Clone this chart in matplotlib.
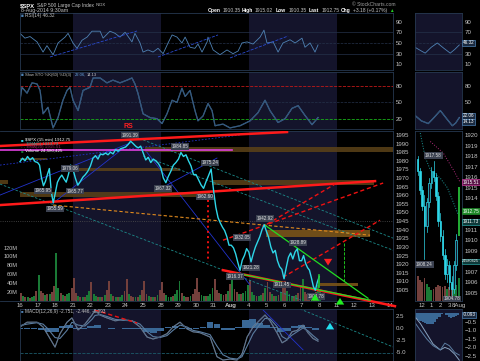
import matplotlib
matplotlib.use('Agg')
import matplotlib.pyplot as plt
import numpy as np

plt.rcParams['font.family'] = ['Liberation Sans', 'DejaVu Sans']

# ---- data (x in trading days from 16-Jul, y in index points) ----
date_labels = ['16', '17', '18', '21', '22', '23', '24', '25', '28', '29', '30', '31',
               'Aug', '4', '5', '6', '7', '8', '11', '12', '13', '14']
shaded_weeks = [(3, 8), (13, 18)]

price_by_day = [
    [1979.5, 1981.5, 1980.0, 1982.5, 1980.5, 1981.8, 1979.5],
    [1979.0, 1977.5, 1970.0, 1965.5, 1968.0, 1972.0, 1975.5, 1962.0, 1955.6],
    [1961.0, 1967.5, 1970.0, 1971.7, 1969.5, 1967.6, 1972.0, 1977.5],
    [1975.5, 1970.0, 1965.8, 1968.0, 1970.5, 1972.0, 1974.0],
    [1977.0, 1981.5, 1983.0, 1981.0, 1984.0, 1983.5, 1984.5],
    [1983.5, 1985.0, 1984.0, 1986.5, 1985.5, 1987.0, 1987.5],
    [1988.0, 1989.5, 1991.4, 1990.0, 1988.5, 1987.5, 1988.5],
    [1984.5, 1980.5, 1982.0, 1979.0, 1981.0, 1980.0, 1978.5],
    [1976.0, 1970.0, 1967.3, 1971.0, 1974.0, 1977.5, 1979.0],
    [1981.0, 1984.8, 1982.5, 1983.5, 1980.0, 1977.0, 1972.0],
    [1972.0, 1969.0, 1966.0, 1964.0, 1968.0, 1971.5, 1975.2],
    [1962.5, 1953.0, 1947.0, 1944.0, 1941.5, 1939.5, 1936.0, 1931.0],
    [1931.0, 1929.5, 1926.0, 1921.0, 1916.4, 1922.3, 1925.0, 1929.0],
    [1927.0, 1921.3, 1926.0, 1930.0, 1933.0, 1936.0, 1940.0, 1942.9],
    [1939.0, 1935.5, 1930.0, 1926.5, 1928.0, 1922.0, 1918.5, 1917.0],
    [1911.5, 1918.0, 1924.0, 1926.5, 1923.0, 1927.0, 1928.9, 1922.0],
    [1922.0, 1925.0, 1920.5, 1918.0, 1916.5, 1912.0, 1907.0, 1904.8, 1909.5],
    [1912.75],
]
last_bar = (16.98, 1907.0, 1913.5)

vol_by_day = [
    [18, 12, 9, 8, 7, 9, 12, 22], [58, 22, 18, 14, 16, 15, 20, 35],
    [108, 30, 18, 14, 12, 15, 18, 30], [52, 18, 12, 10, 9, 10, 14, 22],
    [42, 16, 12, 9, 9, 10, 14, 24], [46, 15, 11, 9, 8, 9, 13, 22],
    [50, 16, 12, 10, 9, 10, 14, 24], [46, 16, 11, 9, 9, 10, 13, 24],
    [42, 18, 13, 10, 10, 11, 15, 26], [46, 17, 12, 10, 10, 12, 16, 28],
    [52, 20, 14, 11, 11, 12, 16, 30], [50, 24, 18, 15, 14, 16, 22, 38],
    [62, 28, 20, 16, 15, 17, 22, 36], [48, 20, 14, 12, 11, 13, 17, 30],
    [42, 20, 15, 12, 12, 14, 20, 34], [46, 22, 15, 12, 11, 13, 18, 32],
    [50, 20, 15, 12, 12, 15, 20, 36], [24.6],
]
vol_dirs = ['rgrgrggr', 'grrgrgrr', 'ggrgrggr', 'rrgrgrgg', 'rggrgrgr', 'rgrgrggr',
            'rgrrgrgr', 'rrgrgrgr', 'rrgggrgg', 'grgrrgrr', 'rrggrggg', 'rrrgrrgr',
            'grrgrggg', 'rggrggrg', 'rrgrgrgr', 'rgggrgrr', 'grrrrrrg', 'g']

price_labels = [(1.31, 1965.95, -1), (1.99, 1955.59, -1), (3.12, 1965.77, -1),
                (2.85, 1979.06, -1), (6.25, 1991.39, 1), (9.10, 1984.85, 1),
                (8.13, 1967.32, -1), (10.80, 1975.24, 1), (10.50, 1962.60, -1),
                (12.60, 1932.05, 1), (12.20, 1916.37, -1), (13.10, 1921.28, -1),
                (13.92, 1942.92, 1), (15.80, 1928.89, 1), (14.90, 1911.45, -1),
                (16.80, 1904.78, -1)]

rsi_days = [0.00, 0.28, 0.57, 0.97, 1.31, 1.53, 1.88, 2.16, 2.56, 2.73, 3.01, 3.24, 3.52,
            3.81, 4.09, 4.55, 4.72, 5.11, 5.40, 5.68, 5.97, 6.36, 6.53, 6.82, 6.99, 7.27,
            7.56, 7.84, 8.13, 8.41, 8.64, 8.92, 9.20, 9.38, 9.66, 9.94, 10.11, 10.34,
            10.63, 10.68, 10.97, 11.36, 11.76, 12.10, 12.39, 12.61, 12.90, 13.24, 13.64,
            13.86, 14.03, 14.38, 14.66, 14.94, 15.34, 15.63, 16.02, 16.19, 16.48, 16.76, 16.93]
rsi_vals = [68, 59, 62, 52, 33, 45, 28, 50, 61, 68, 50, 40, 55, 61, 72, 72, 59, 72, 68, 61,
            70, 52, 68, 50, 33, 37, 33, 40, 30, 50, 65, 61, 50, 61, 42, 40, 48, 33, 52, 61,
            37, 28, 37, 30, 35, 50, 52, 48, 61, 74, 50, 52, 33, 50, 56, 50, 59, 42, 50, 33, 46.3]

sto_days = [0, 0.11, 0.40, 0.68, 0.97, 1.14, 1.31, 1.59, 1.88, 2.16, 2.44, 2.67, 2.84, 3.01,
            3.30, 3.58, 3.98, 4.15, 4.55, 4.94, 5.28, 5.68, 6.08, 6.36, 6.53, 6.70, 6.99,
            7.39, 7.78, 8.07, 8.35, 8.64, 8.92, 9.20, 9.38, 9.66, 9.94, 10.11, 10.40, 10.68,
            10.91, 11.08, 11.53, 11.93, 12.50, 13.07, 13.52, 13.92, 14.20, 14.66, 15.06,
            15.45, 15.80, 16.19, 16.59, 16.93]
sto_vals = [54, 78, 67, 86, 84, 72, 29, 41, 3, 22, 54, 72, 78, 54, 35, 72, 78, 95, 95, 86,
            91, 86, 91, 95, 84, 67, 29, 22, 20, 11, 29, 54, 50, 76, 61, 72, 35, 16, 25, 48,
            35, 7, 10, 3, 7, 16, 31, 54, 35, 13, 20, 39, 44, 26, 9, 22.06]

macd_days = [0, 0.4, 0.97, 1.31, 1.59, 1.99, 2.27, 2.67, 2.95, 3.3, 3.69, 4.09, 4.26, 4.55,
             4.94, 5.4, 5.85, 6.36, 6.82, 7.22, 7.56, 7.95, 8.35, 8.69, 9.09, 9.49, 9.83,
             10.23, 10.8, 11.19, 11.53, 11.93, 12.33, 12.61, 12.9, 13.24, 13.64, 13.92, 14.2,
             14.6, 14.89, 15.17, 15.45, 15.74, 16.08, 16.36, 16.65, 16.93]
macd_vals = [0.2, 1.2, 1.2, 0.2, -1.5, -4.0, -1.2, 1.2, 2.1, -0.4, 0.8, 2.7, 3.7, 2.7, 2.1,
             1.5, 1.7, 1.5, 0.2, -1.9, -2.3, -1.9, -1.2, 0.2, 1.2, -0.2, -0.8, -1.0, -1.9,
             -6.0, -6.7, -6.5, -6.7, -5.5, -1.9, 0.2, 1.7, 2.7, 1.5, -1.0, -3.1, -2.5, -0.8,
             -0.5, 0.6, -1.0, -2.2, -2.75]
signal_vals = [0.5, 0.8, 1.1, 0.8, -0.2, -2.0, -2.2, -0.5, 1.2, 0.6, 0.4, 1.8, 2.6, 2.8, 2.4,
               1.8, 1.6, 1.5, 0.8, -0.8, -1.8, -2.0, -1.6, -0.5, 0.6, 0.2, -0.5, -0.8, -1.4,
               -3.8, -5.6, -6.3, -6.5, -6.0, -3.8, -1.2, 0.8, 2.0, 1.9, 0.3, -1.8, -2.4, -1.5,
               -0.8, 0.0, -0.6, -1.6, -2.45]
hist_vals = [-0.2, -0.3, -0.2, -0.4, -0.8, -0.9, 0.4, 0.6, -0.2, -0.2, 0.5, 0.6, -0.1, -0.2,
             -0.1, -0.2, -0.2, -0.3, -0.9, -1.0, -0.7, 0.3, 0.4, -0.2, -0.3, -0.3, 0.3, 1.3,
             0.9, -0.5, -0.4, 0.2, 1.6, 1.9, 1.0, 0.6, 0.2, -0.8, -0.6, 0.5, 0.6, 0.2, -0.4]

# right hand panel: last session in 15 min bars (x in hours)
c_time = [11.5, 11.75, 12.0, 12.25, 12.5, 12.75, 13.0, 13.25, 13.5, 13.75, 14.0, 14.25,
          14.5, 14.75, 15.0, 15.25, 15.5, 15.75]
c_open = [1917.7, 1916.6, 1914.8, 1913.3, 1911.3, 1913.6, 1915.4, 1916.6, 1916.0, 1914.2,
          1911.8, 1910.4, 1908.6, 1906.8, 1907.6, 1906.0, 1905.3, 1907.6]
c_close = [1916.6, 1914.8, 1913.3, 1911.3, 1913.6, 1915.4, 1916.6, 1916.0, 1914.2, 1911.8,
           1910.4, 1908.6, 1906.8, 1907.6, 1906.0, 1905.3, 1907.6, 1910.0]
c_high = [1918.0, 1916.9, 1915.2, 1914.3, 1914.0, 1915.9, 1917.0, 1917.58, 1916.4, 1914.6,
          1912.6, 1911.0, 1909.2, 1908.2, 1908.0, 1906.6, 1908.0, 1910.6]
c_low = [1916.2, 1914.4, 1912.9, 1908.24, 1910.8, 1913.2, 1915.0, 1915.6, 1913.8, 1911.3,
         1909.9, 1908.2, 1906.3, 1906.0, 1905.3, 1904.78, 1905.0, 1907.2]
c_vol = [26, 22, 20, 24, 18, 15, 12, 13, 15, 17, 16, 15, 16, 13, 15, 18, 14, 17]
aug8_bar = (16.1, 1910.35, 1912.75, 1915.02, 1910.35, 24.6)
ema_t = [11.78, 12.33, 12.89, 14.0, 14.78, 15.44, 16.0, 16.1]
ema_v = [1920.2, 1917.9, 1916.7, 1915.9, 1915.0, 1913.6, 1912.4, 1911.73]
ema2_t = [12.89, 14.33, 15.44, 16.2]
ema2_v = [1919.4, 1918.3, 1916.7, 1915.51]
rsi_r_t = [11.2, 11.8, 12.33, 13.0, 13.67, 14.4, 15.1, 15.6, 16.1]
rsi_r_v = [42, 36, 31, 42, 50, 40, 31, 38, 46.3]
sto_r_t = [11.2, 11.9, 12.67, 13.3, 14.0, 14.7, 15.33, 15.7, 16.1]
sto_r_v = [26, 16, 11, 22, 35, 20, 7, 12, 22]
macd_r_t = [11.2, 11.8, 12.5, 13.2, 14.0, 14.5, 15.0, 15.6, 16.1]
macd_r_v = [-0.2, -0.6, -1.2, -1.8, -2.15, -2.0, -2.1, -2.4, -2.75]
sig_r_v = [-0.55, -1.0, -1.5, -1.9, -2.15, -1.75, -1.9, -2.3, -2.45]
hist_r_v = [-0.35, -0.4, -0.45, -0.5, -0.55, -0.6, -0.65, -0.6, -0.5, -0.35, -0.2, -0.05,
            0.0, -0.1, -0.2, -0.25, -0.2, -0.15, -0.09]

# chartist annotations (day, value) pairs
red_thick = [((-1.136, 1988.6), (15.17, 1996.7)), ((-1.136, 1954.3), (20.17, 1968.2)),
             ((11.53, 1916.5), (21.3, 1895.6))]
red_dashed = [((11.53, 1933.9), (20.63, 1967.1)), ((14.03, 1943.2), (17.9, 1966.5)),
              ((14.94, 1912.4), (20.45, 1945.5))]
blue_solid = [((-1.136, 1960.1), (6.25, 1990.3)), ((1.88, 1955.4), (6.25, 1990.3)),
              ((7.2, 1985.1), (13.07, 1907.8)), ((8.13, 1964.7), (11.19, 1981.6))]
blue_dotted = [((-1.136, 1977.5), (12.5, 1995.0))]
teal_dashed = [((-1.136, 1966.5), (15.97, 1899.1)), ((7.0, 1992.1), (21.19, 1935.1)),
               ((7.0, 1982.8), (21.19, 1928.1))]
green_solid = [((12.33, 1914.7), (19.89, 1899.05)), ((13.92, 1942.6), (19.77, 1900.2))]
orange_dashed = [((1.875, 1954.3), (19.89, 1936.8))]
bands = [(7.1, 21.19, 1985.1, 1988.0), (0.0, 1.53, 1980.4, 1981.6), (2.84, 9.09, 1974.0, 1975.8),
         (10.9, 20.1, 1965.9, 1968.8), (0.0, 10.8, 1959.0, 1961.8), (-1.136, -0.68, 1966.5, 1968.8)]
orange_bands = [(14.0, 19.9, 1935.7, 1939.7), (17.05, 19.2, 1907.2, 1909.0)]
rsi_trends = [((1.7, 23.8), (6.65, 72.4)), ((7.84, 23.8), (11.25, 65)), ((11.93, 22), (15.23, 63))]

# ---- figure ----
W, H = 480, 361
fig = plt.figure(figsize=(4.8, 3.61), dpi=100, facecolor='black')
SHADE = '#14142b'
FRAME = '#26384f'
TXT = '#c4c4c4'
CYAN = '#2ed6e8'
VGREEN = '#1a7a36'
VRED = '#74403c'
XMAX = 21.19


def px_axes(x0, y0, x1, y1):
    return fig.add_axes([x0 / W, 1 - y1 / H, (x1 - x0) / W, (y1 - y0) / H])


def ftext(x, y, s, **kw):
    kw.setdefault('va', 'center')
    fig.text(x / W, 1 - y / H, s, **kw)


def style(ax, face='black'):
    ax.set_facecolor(face)
    for s in ax.spines.values():
        s.set_color(FRAME)
        s.set_linewidth(0.6)
    ax.tick_params(colors=TXT, labelsize=4.4, length=0, pad=2)
    ax.yaxis.tick_right()


def shade(ax):
    for a, b in shaded_weeks:
        ax.axvspan(a, b, color=SHADE, lw=0, zorder=0)


def seg(ax, pairs, **kw):
    for (x0, y0), (x1, y1) in pairs:
        ax.plot([x0, x1], [y0, y1], **kw)


def box(ax, y, s, fc, ec, tc='white', size=3.3, x=1.02):
    ax.text(x, y, s, fontsize=size, color=tc, va='center', ha='left',
            transform=ax.get_yaxis_transform(), clip_on=False,
            bbox=dict(boxstyle='square,pad=0.12', fc=fc, ec=ec, lw=0.5))


# RSI
ax = px_axes(20, 13, 393, 70)
style(ax)
shade(ax)
ax.set_xlim(0, XMAX)
ax.set_ylim(-0.5, 106)
ax.set_xticks([])
ax.set_yticks([10, 30, 50, 70, 90])
for lv, ls in [(70, '-'), (50, '--'), (30, '-')]:
    ax.axhline(lv, color='#25324a', lw=0.5, ls=ls)
ax.plot(rsi_days, rsi_vals, color='#4f82b4', lw=0.6)
seg(ax, rsi_trends, color='#2a4ad0', lw=0.6, ls='--')

axr = px_axes(415, 13, 462, 70)
style(axr, SHADE)
axr.set_xlim(11.2, 16.4)
axr.set_ylim(-0.5, 106)
axr.set_xticks([])
axr.set_yticks([10, 30, 70, 90])
for lv, ls in [(70, '-'), (50, '--'), (30, '-')]:
    axr.axhline(lv, color='#25324a', lw=0.5, ls=ls)
axr.plot(rsi_r_t, rsi_r_v, color='#4f82b4', lw=0.6)
box(axr, 50, '46.32', '#1a2a40', '#4f82b4')

# Slow stochastic
ax = px_axes(20, 72, 393, 129)
style(ax)
shade(ax)
ax.set_xlim(0, XMAX)
ax.set_ylim(1, 106)
ax.set_xticks([])
ax.set_yticks([20, 50, 80])
ax.axhline(80, color='#c01818', lw=0.6, ls='--')
ax.axhline(50, color='#25324a', lw=0.5, ls='--')
ax.axhline(20, color='#18b018', lw=0.6, ls='--')
ax.plot(sto_days, sto_vals, color='#4f82b4', lw=0.9)
ax.plot(sto_days, sto_vals, color='#0c1a2a', lw=0.25)

axr = px_axes(415, 72, 462, 129)
style(axr, SHADE)
axr.set_xlim(11.2, 16.4)
axr.set_ylim(1, 106)
axr.set_xticks([])
axr.set_yticks([50, 80])
axr.plot(sto_r_t, sto_r_v, color='#4f82b4', lw=0.9)
axr.plot(sto_r_t, sto_r_v, color='#0c1a2a', lw=0.25)
box(axr, 25, '22.06', '#1a2a40', '#4f82b4')
box(axr, 14, '14.13', '#1a2a40', '#4f82b4')

# Price panel (starts at the left figure edge so trend lines run to the edge)
ax = px_axes(0, 131, 393, 301)
vax = ax.twinx()
ax.set_zorder(3)
vax.set_zorder(2)
ax.patch.set_visible(False)
style(ax)
vax.set_facecolor('black')
for s in vax.spines.values():
    s.set_visible(False)
vax.set_yticks([])
shade(vax)
ax.spines['left'].set_visible(False)
ax.set_xlim(-1.136, XMAX)
ax.set_ylim(1898.6, 1997.3)
vax.set_ylim(0, 385)
ax.set_yticks(range(1905, 1996, 5))
ax.set_xticks(range(len(date_labels)))
ax.set_xticklabels(date_labels)
ax.tick_params(axis='x', pad=1.5)

vx, vv, vc = [], [], []
for d, vals in enumerate(vol_by_day):
    for k, v in enumerate(vals):
        vx.append(d + k / 8 + 0.06)
        vv.append(v)
        vc.append(VGREEN if vol_dirs[d][k] == 'g' else VRED)
vax.bar(vx, vv, width=0.11, color=vc, lw=0)
for v in [20, 40, 60, 80, 100, 120]:
    vax.text(-0.12, v, f'{v}M', fontsize=4, color=TXT, ha='right', va='center')

for d0, d1, lo, hi in bands:
    ax.fill_between([d0, d1], lo, hi, color='#5c4318', alpha=0.85, lw=0, zorder=1)
for d0, d1, lo, hi in orange_bands:
    ax.fill_between([d0, d1], lo, hi, color='#7a5418', alpha=0.9, lw=0, zorder=1)

ax.axhline(1945, color='#505050', lw=0.6, ls=':', zorder=1)
seg(ax, teal_dashed, color='#1c8a8a', lw=0.6, ls=(0, (3, 2)), zorder=2)
seg(ax, blue_solid, color='#2233cc', lw=0.6, zorder=2)
seg(ax, blue_dotted, color='#2233cc', lw=0.6, ls=(0, (2, 2)), zorder=2)
seg(ax, orange_dashed, color='#e08a1e', lw=0.8, ls=(0, (3, 2)), zorder=2)
ax.plot([-1.136, 12.05], [1986.3, 1986.3], color='#e040e0', lw=1.2, zorder=3)
seg(ax, red_thick[:2], color='#ff1a1a', lw=1.8, zorder=3)
seg(ax, red_thick[2:], color='#ff1a1a', lw=1.8, zorder=3, clip_on=False)
seg(ax, green_solid, color='#22dd22', lw=0.9, zorder=4)
seg(ax, red_dashed, color='#ee1111', lw=1.0, ls=(0, (3, 2)), zorder=3)
ax.plot([10.68, 10.68], [1957.2, 1921.1], color='#ee1111', lw=1.4, ls=':', zorder=3)
ax.plot([18.41, 18.41], [1932.2, 1908.9], color='#22dd22', lw=0.6, ls='--', zorder=3)

px_x, px_y = [], []
for d, vals in enumerate(price_by_day):
    for k, v in enumerate(vals):
        px_x.append(d + k / len(vals))
        px_y.append(v)
ax.plot(px_x, px_y, color=CYAN, lw=1.0, zorder=5)
ax.plot([last_bar[0]] * 2, last_bar[1:], color='#22cc33', lw=1.2, zorder=5)

for d, v, side in price_labels:
    ax.annotate(f'{v:.2f}', (d, v), xytext=(0, 6 * side), textcoords='offset pixels',
                ha='center', va='center', fontsize=3.3, color='#e0e0e0', zorder=8,
                bbox=dict(boxstyle='square,pad=0.15', fc='#3b4150', ec='none'))


def arrow(a, d, v, up, color):
    a.annotate('', xy=(d, v), xytext=(0, -10 if up else 10), textcoords='offset pixels',
               annotation_clip=False, zorder=9,
               arrowprops=dict(arrowstyle='simple,head_width=1.0,head_length=0.8,tail_width=0.45',
                               fc=color, ec='none', mutation_scale=6))


arrow(ax, 17.5, 1917.6, False, '#ff2020')
arrow(ax, 16.76, 1904.3, True, '#22ee22')
arrow(ax, 18.18, 1902.0, True, '#22ee22')

for lab in ax.get_xticklabels():
    if lab.get_text() == 'Aug':
        lab.set_fontweight('bold')

# right price panel
axr = px_axes(415, 131, 462, 301)
vr = axr.twinx()
axr.set_zorder(3)
vr.set_zorder(2)
axr.patch.set_visible(False)
style(axr)
vr.set_facecolor(SHADE)
for s in vr.spines.values():
    s.set_visible(False)
vr.set_yticks([])
axr.set_xlim(11.2, 16.4)
axr.set_ylim(1904.2, 1920.4)
vr.set_ylim(0, 180)
axr.set_yticks([1905, 1906, 1907, 1909, 1910, 1911, 1914, 1915, 1916, 1917, 1918, 1919, 1920])
axr.set_xticks([12, 13, 14, 15, 16.1])
axr.set_xticklabels(['12', '1', '2', '3', '8Aug'])
axr.tick_params(axis='x', pad=1.5)
vcol = [VGREEN if c > o else VRED for o, c in zip(c_open, c_close)]
vr.bar(c_time + [aug8_bar[0]], c_vol + [aug8_bar[5]], width=0.2, color=vcol + [VGREEN], lw=0)
for t, o, c, h, l in zip(c_time, c_open, c_close, c_high, c_low):
    axr.plot([t, t], [l, h], color=CYAN, lw=0.5, zorder=4)
    up = c > o
    axr.bar(t, abs(c - o), bottom=min(o, c), width=0.17, zorder=5,
            color=SHADE if up else CYAN, edgecolor=CYAN, lw=0.5)
t, o, c, h, l, _ = aug8_bar
axr.bar(t, h - l, bottom=l, width=0.18, color='#22aa33', zorder=5)
axr.plot(ema_t, ema_v, color='#1c9a9a', lw=0.7, ls=':', zorder=3)
axr.plot(ema2_t, ema2_v, color='#b02a7a', lw=0.7, ls=':', zorder=3)
for t, v, off in [(13.25, 1917.58, 5), (12.25, 1908.24, -6), (15.25, 1904.78, -4)]:
    axr.annotate(f'{v:.2f}', (t, v), xytext=(0, off), textcoords='offset pixels', ha='center',
                 va='center', fontsize=3.3, color='#e0e0e0', zorder=8,
                 bbox=dict(boxstyle='square,pad=0.15', fc='#3b4150', ec='none'))
box(axr, 1915.51, '1915.51', '#5a1246', '#d040a0')
box(axr, 1912.75, '1912.75', '#1f8a2a', '#1f8a2a')
box(axr, 1911.73, '1911.73', '#0f3a3a', '#2aa0a0')
box(axr, 1908.0, '24580425', '#0f3a3a', '#2aa0a0', size=2.7, x=1.005)

# MACD
ax = px_axes(20, 309, 393, 361)
style(ax)
shade(ax)
ax.set_xlim(0, XMAX)
ax.set_ylim(-6.9, 3.96)
ax.set_xticks([])
ax.set_yticks([-5, -2.5, 0, 2.5])
ax.set_yticklabels(['-5.0', '-2.5', '0.0', '2.5'])
ax.axhline(-5.3, color='#1c5a6a', lw=0.6, ls='--')
ax.bar(np.arange(len(hist_vals)) * 0.4, hist_vals, width=0.38, color='#3a6896', lw=0)
ax.plot(macd_days, macd_vals, color='#8aa4c0', lw=0.8)
ax.plot(macd_days, signal_vals, color='#5a7ca0', lw=0.8)
ax.plot(macd_days, macd_vals, color='#10182a', lw=0.2)
ax.plot([13.81, 16.08], [3.75, -4.58], color='#2233cc', lw=0.6)
ax.plot([15.91, 21.19], [3.96, -3.96], color='#1c8a8a', lw=0.6, ls=(0, (3, 2)))
ax.plot([4.26, 6.65], [3.75, 1.04], color='#ee1111', lw=1.0, ls=(0, (3, 2)))
arrow(ax, 17.61, 1.67, True, '#22e0f0')

axr = px_axes(415, 309, 462, 361)
style(axr, SHADE)
axr.set_xlim(11.2, 16.4)
axr.set_ylim(-2.8, 0.26)
axr.set_xticks([])
axr.set_yticks([-2.5, -2.0, -1.5, -1.0, -0.5])
axr.bar(11.3 + np.arange(len(hist_r_v)) * 0.26, hist_r_v, width=0.26, color='#3a6896', lw=0)
axr.plot(macd_r_t, macd_r_v, color='#8aa4c0', lw=0.7)
axr.plot(macd_r_t, sig_r_v, color='#5a7ca0', lw=0.7)
box(axr, -0.093, '-0.093', '#1a2a40', '#4f82b4')

# header and legends
ftext(20, 5.5, '\\$SPX', fontsize=4.2, color='white', weight='bold')
ftext(37, 5.5, 'S&P 500 Large Cap Index', fontsize=3.5, color=TXT)
ftext(96, 5.5, 'INDX', fontsize=3.0, color=TXT)
ftext(21, 10.5, '8-Aug-2014 9:30am', fontsize=3.8, color=TXT)
for x, s, b in [(208, 'Open', True), (223, '1910.35', False), (242, 'High', True),
                (255, '1915.02', False), (276, 'Low', True), (289, '1910.35', False),
                (309, 'Last', True), (322, '1912.75', False), (341, 'Chg', True),
                (353, '+3.18 (+0.17%)', False)]:
    ftext(x, 10.5, s, fontsize=3.6, color='white' if b else TXT, weight='bold' if b else 'normal')
ftext(389, 10.5, '▲', fontsize=3.3, color='#22cc22')
ftext(352, 4, '© StockCharts.com', fontsize=3.6, color='#a0a0a0')
ftext(21, 15.5, '■', fontsize=3.3, color='#4f82b4')
ftext(25, 15.5, 'RSI(14) 46.32', fontsize=3.4, color=TXT)
ftext(21, 75, '■', fontsize=3.3, color='#4f82b4')
ftext(25, 75, 'Slow STO %K(60) %D(3)', fontsize=3.0, color=TXT)
ftext(75, 75, '22.06,', fontsize=3.0, color='#6aa8e0')
ftext(87, 75, '14.13', fontsize=3.0, color=TXT)
ftext(128, 127, 'RS', fontsize=5, color='#ff2020', weight='bold', ha='center')
ftext(21, 140, '■', fontsize=3.1, color=CYAN)
ftext(25, 140, '\\$SPX (15 min) 1912.75', fontsize=3.2, color='white')
ftext(21, 143.8, '- - EMA(5) 1913.73', fontsize=3.2, color='#2aa0a0')
ftext(21, 147.4, '- - EMA(20) 1915.51', fontsize=3.2, color='#a02060')
ftext(21, 151, '■', fontsize=3.1, color=VGREEN)
ftext(25, 151, 'Volume 24,580,425', fontsize=3.2, color='white')
ftext(21, 311.5, '■', fontsize=3.1, color='#4f82b4')
ftext(25, 311.5, 'MACD(12,26,9) -2.751, -2.446, -0.093', fontsize=3.4, color=TXT)

fig.savefig('out.png', dpi=100, facecolor='black')
